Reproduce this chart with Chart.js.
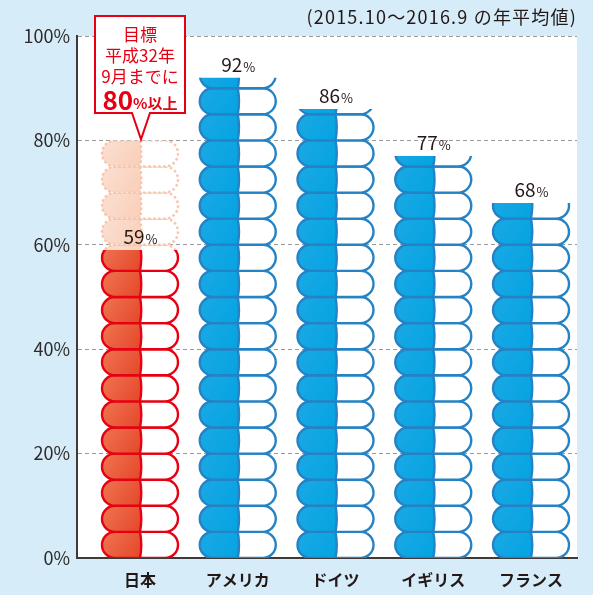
<!DOCTYPE html>
<html lang="ja">
<head>
<meta charset="utf-8">
<script src="https://cdn.jsdelivr.net/npm/chart.js@4.4.0/dist/chart.umd.min.js"></script>
<style>
  html, body { margin: 0; padding: 0; background: #d6ecf8; }
  #wrap { width: 593px; height: 595px; }
</style>
</head>
<body>
<div id="wrap"><canvas id="chart" width="593" height="595"></canvas></div>
<script>
// --- data ---
const categories = ['日本', 'アメリカ', 'ドイツ', 'イギリス', 'フランス'];
const values = [59, 92, 86, 77, 68];
const targetRange = [59, 80];          // 日本の目標 (点線部分)
const yTicks = [0, 20, 40, 60, 80, 100];
const pillStep = 5;                    // 1カプセル = 5%
const periodNote = '(2015.10〜2016.9 の年平均値)';
const calloutLines = ['目標', '平成32年', '9月までに'];
const calloutValue = '80';
const calloutSuffix = '%以上';

const FONT = '"Noto Sans CJK JP", "Noto Sans", sans-serif';
const RED = '#e60012';
const INK = '#231815';

function pillPath(ctx, l, t, w, h) {
    const r = h / 2;
    ctx.beginPath();
    ctx.moveTo(l + r, t);
    ctx.lineTo(l + w - r, t);
    ctx.arc(l + w - r, t + r, r, -Math.PI / 2, Math.PI / 2);
    ctx.lineTo(l + r, t + h);
    ctx.arc(l + r, t + r, r, Math.PI / 2, Math.PI * 1.5);
    ctx.closePath();
}

function drawPills(ctx, bar, yScale, from, to, style) {
    const l = bar.x - bar.width / 2;
    const w = bar.width;
    const top = yScale.getPixelForValue(to);
    const bottom = yScale.getPixelForValue(from);
    const bulge = 2.5;
    ctx.save();
    ctx.beginPath();
    ctx.rect(l - 4, top, w + 8, bottom - top);
    ctx.clip();
    for (let v = Math.floor(from / pillStep) * pillStep; v < to; v += pillStep) {
        const t = yScale.getPixelForValue(v + pillStep);
        const b = yScale.getPixelForValue(v);
        const h = b - t;
        pillPath(ctx, l, t, w, h);
        ctx.fillStyle = '#ffffff';
        ctx.fill();
        ctx.save();
        pillPath(ctx, l, t, w, h);
        ctx.clip();
        const g = ctx.createLinearGradient(l, t, bar.x, b);
        g.addColorStop(0, style.light);
        g.addColorStop(1, style.dark);
        ctx.beginPath();
        ctx.moveTo(l - 2, t);
        ctx.lineTo(bar.x, t);
        ctx.quadraticCurveTo(bar.x + bulge, t + h / 2, bar.x, b);
        ctx.lineTo(l - 2, b);
        ctx.closePath();
        ctx.fillStyle = g;
        ctx.fill();
        ctx.restore();
        ctx.lineWidth = 2.4;
        ctx.strokeStyle = style.line;
        ctx.setLineDash(style.dash || []);
        pillPath(ctx, l, t, w, h);
        ctx.stroke();
        ctx.beginPath();
        ctx.moveTo(bar.x, t);
        ctx.quadraticCurveTo(bar.x + bulge, t + h / 2, bar.x, b);
        ctx.stroke();
    }
    ctx.restore();
}

const styles = {
    japan: { light: '#f07552', dark: '#e4482a', line: RED },
    other: { light: '#1aa9e4', dark: '#05a3e2', line: '#2582c4' },
    target: { light: '#fbe0d2', dark: '#f9ceb8', line: '#f7c4ab', dash: [2.5, 2.5] }
};

const pillPlugin = {
    id: 'pills',
    beforeDraw(chart) {
        const { ctx, chartArea: a } = chart;
        ctx.save();
        ctx.fillStyle = '#ffffff';
        ctx.fillRect(a.left, a.top, a.right - a.left, a.bottom - a.top);
        ctx.restore();
    },
    afterDatasetsDraw(chart) {
        const { ctx } = chart;
        const yScale = chart.scales.y;
        const target = chart.getDatasetMeta(0).data[0];
        drawPills(ctx, target, yScale, targetRange[0], targetRange[1], styles.target);
        chart.getDatasetMeta(1).data.forEach((bar, i) => {
            drawPills(ctx, bar, yScale, 0, values[i], i === 0 ? styles.japan : styles.other);
        });

        // value labels
        ctx.save();
        ctx.fillStyle = INK;
        ctx.textBaseline = 'alphabetic';
        chart.getDatasetMeta(1).data.forEach((bar, i) => {
            const num = String(values[i]);
            ctx.font = '19px ' + FONT;
            const w1 = ctx.measureText(num).width;
            ctx.font = '13px ' + FONT;
            const w2 = ctx.measureText('%').width;
            const x0 = bar.x - (w1 + w2) / 2;
            const y0 = yScale.getPixelForValue(values[i]) - 6;
            ctx.font = '19px ' + FONT;
            ctx.textAlign = 'left';
            ctx.fillText(num, x0, y0);
            ctx.font = '13px ' + FONT;
            ctx.fillText('%', x0 + w1 + 1, y0);
        });
        ctx.restore();

        // callout
        const tipX = target.x + 1;
        const tipY = yScale.getPixelForValue(targetRange[1]) - 1;
        const bl = tipX - 46, br = tipX + 44, bt = 16, bb = 113;
        ctx.save();
        ctx.beginPath();
        ctx.moveTo(bl, bt);
        ctx.lineTo(br, bt);
        ctx.lineTo(br, bb);
        ctx.lineTo(tipX + 9, bb);
        ctx.lineTo(tipX, tipY);
        ctx.lineTo(tipX - 9, bb);
        ctx.lineTo(bl, bb);
        ctx.closePath();
        ctx.fillStyle = '#ffffff';
        ctx.fill();
        ctx.lineWidth = 2;
        ctx.strokeStyle = RED;
        ctx.stroke();
        ctx.fillStyle = RED;
        ctx.textAlign = 'center';
        ctx.textBaseline = 'middle';
        const cx = (bl + br) / 2;
        ctx.font = '17px ' + FONT;
        ctx.fillText(calloutLines[0], cx, 35);
        ctx.fillText(calloutLines[1], cx, 56);
        ctx.fillText(calloutLines[2], cx, 77);
        ctx.font = 'bold 26px ' + FONT;
        const wv = ctx.measureText(calloutValue).width;
        ctx.font = 'bold 15px ' + FONT;
        const ws = ctx.measureText(calloutSuffix).width;
        const sx = cx - (wv + ws) / 2;
        ctx.textAlign = 'left';
        ctx.textBaseline = 'alphabetic';
        ctx.font = 'bold 26px ' + FONT;
        ctx.fillText(calloutValue, sx, 110);
        ctx.font = 'bold 15px ' + FONT;
        ctx.fillText(calloutSuffix, sx + wv, 109);
        ctx.restore();

        // period note
        ctx.save();
        ctx.fillStyle = INK;
        ctx.font = '18px ' + FONT;
        ctx.letterSpacing = '1.2px';
        ctx.textAlign = 'right';
        ctx.textBaseline = 'middle';
        ctx.fillText(periodNote, 577, 17);
        ctx.restore();
    }
};

new Chart(document.getElementById('chart'), {
    type: 'bar',
    data: {
        datasets: [
            {
                label: 'target',
                data: [{ x: 0, y: targetRange }],
                backgroundColor: 'transparent',
                barThickness: 76,
                grouped: false
            },
            {
                label: 'values',
                data: values.map((v, i) => ({ x: i, y: v })),
                backgroundColor: 'transparent',
                barThickness: 76,
                grouped: false
            }
        ]
    },
    options: {
        responsive: false,
        animation: false,
        layout: { padding: { top: 36, right: 16, left: 0, bottom: 0 } },
        plugins: { legend: { display: false }, tooltip: { enabled: false } },
        scales: {
            x: {
                type: 'linear',
                offset: false,
                min: -0.6445,
                max: 4.4706,
                afterBuildTicks: s => { s.ticks = categories.map((_, i) => ({ value: i })); },
                afterFit: s => { s.height = 37; },
                ticks: {
                    callback: v => categories[v],
                    color: INK,
                    font: { family: FONT, size: 16, weight: 'bold' },
                    padding: 12,
                    maxRotation: 0,
                    autoSkip: false
                },
                grid: { display: false, drawTicks: false, offset: false },
                border: { display: true, color: '#3e3a39', width: 2 }
            },
            y: {
                min: 0,
                max: 100,
                afterBuildTicks: s => { s.ticks = yTicks.map(v => ({ value: v })); },
                afterFit: s => { s.width = 77; },
                ticks: {
                    callback: v => v + '%',
                    color: '#2e2b2a',
                    font: { family: FONT, size: 18 },
                    padding: 7
                },
                grid: { color: '#9a9a9a', lineWidth: 1, drawTicks: false },
                border: { display: true, color: '#3e3a39', width: 2, dash: [4, 3] }
            }
        }
    },
    plugins: [pillPlugin]
});
</script>
</body>
</html>
